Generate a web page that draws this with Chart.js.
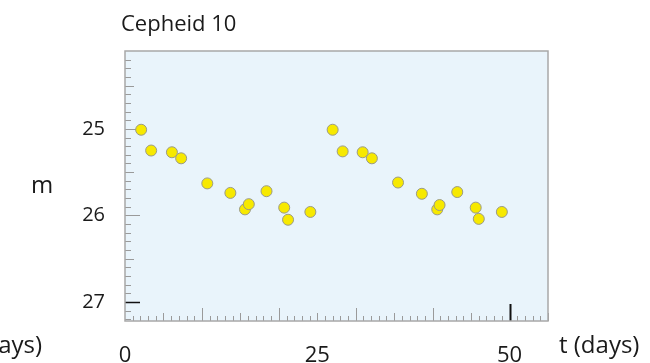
<!DOCTYPE html>
<html>
<head>
<meta charset="utf-8">
<script src="https://cdn.jsdelivr.net/npm/chart.js@4.4.1/dist/chart.umd.min.js"></script>
<style>
  html, body { margin: 0; padding: 0; background: #fff; }
  #wrap { width: 650px; height: 363px; position: relative; }
</style>
</head>
<body>
<div id="wrap"><canvas id="chart" width="650" height="363"></canvas></div>
<script>
const title = "Cepheid 10";
const xTitle = "t (days)";
const yTitle = "m";

// observation times (days) and apparent magnitudes
const days = [2.1, 3.4, 6.1, 7.3, 10.7, 13.7, 15.6, 16.1, 18.4, 20.7, 21.2, 24.1,
              27.0, 28.3, 30.9, 32.1, 35.5, 38.6, 40.6, 40.9, 43.2, 45.6, 46.0, 49.0];
const mags = [25.01, 25.25, 25.27, 25.34, 25.63, 25.74, 25.93, 25.87, 25.72, 25.91, 26.05, 25.96,
              25.01, 25.26, 25.27, 25.34, 25.62, 25.75, 25.93, 25.88, 25.73, 25.91, 26.04, 25.96];

const xLabels = [0, 25, 50];
const yLabels = [25, 26, 27];

const FONT = "'Open Sans', sans-serif";

const points = days.map((d, i) => ({ x: d, y: mags[i] }));

// light blue panel + border + inward tick marks, all placed through the scales
const panel = {
  id: "panel",
  beforeDatasetsDraw(chart) {
    const { ctx, chartArea: a, scales: { x, y } } = chart;
    ctx.save();
    ctx.fillStyle = "#e9f4fb";
    ctx.fillRect(a.left, a.top, a.right - a.left, a.bottom - a.top);

    // x ticks (every day, longer every 5 and 10)
    for (let d = 1; d <= 55; d++) {
      const px = Math.round(x.getPixelForValue(d)) + 0.5;
      let len = 5, col = "#9a9a9a", w = 1;
      if (d % 10 === 0) len = 13;
      else if (d % 5 === 0) len = 8;
      if (d === 50) { len = 17; col = "#111"; w = 2; }
      ctx.strokeStyle = col;
      ctx.lineWidth = w;
      ctx.beginPath();
      ctx.moveTo(px, a.bottom);
      ctx.lineTo(px, a.bottom - len);
      ctx.stroke();
    }

    // y ticks (every 0.1, longer every 0.5 and 1)
    for (let k = 242; k <= 272; k++) {
      const v = k / 10;
      const py = Math.round(y.getPixelForValue(v)) + 0.5;
      let len = 6, col = "#9a9a9a", w = 1;
      if (k % 10 === 0) len = 15;
      else if (k % 5 === 0) len = 9;
      if (k === 270) { col = "#111"; w = 1.5; }
      ctx.strokeStyle = col;
      ctx.lineWidth = w;
      ctx.beginPath();
      ctx.moveTo(a.left, py);
      ctx.lineTo(a.left + len, py);
      ctx.stroke();
    }

    ctx.strokeStyle = "#a8a8a8";
    ctx.lineWidth = 1.5;
    ctx.strokeRect(a.left, a.top, a.right - a.left, a.bottom - a.top);
    ctx.restore();
  },
  afterDraw(chart) {
    const { ctx } = chart;
    ctx.save();
    ctx.fillStyle = "#1a1a1a";
    ctx.textBaseline = "middle";

    ctx.font = "22px " + FONT;
    ctx.textAlign = "left";
    ctx.fillText(title, 121, 25);

    ctx.font = "24px " + FONT;
    ctx.textAlign = "center";
    ctx.fillText(yTitle, 42, 186);

    ctx.font = "24px " + FONT;
    ctx.textAlign = "left";
    ctx.fillText(xTitle, 559, 346);
    // clipped copy at the left edge
    ctx.textAlign = "right";
    ctx.fillText(xTitle, 42, 346);
    ctx.restore();
  }
};

new Chart(document.getElementById("chart"), {
  type: "scatter",
  data: {
    datasets: [{
      data: points,
      backgroundColor: "#f7e900",
      borderColor: "#9b9b86",
      borderWidth: 1,
      pointRadius: 5.5,
      pointHoverRadius: 5.5
    }]
  },
  options: {
    responsive: false,
    animation: false,
    layout: { padding: { top: 51, right: 102, left: 0, bottom: 0 } },
    plugins: {
      legend: { display: false },
      tooltip: { enabled: false },
      title: { display: false }
    },
    scales: {
      x: {
        type: "linear",
        min: 0,
        max: 55,
        grid: { display: false, drawTicks: false },
        border: { display: false },
        afterBuildTicks: (s) => { s.ticks = xLabels.map(v => ({ value: v })); },
        afterFit: (s) => { s.height = 42; },
        ticks: {
          autoSkip: false,
          maxRotation: 0,
          padding: 22,
          color: "#1a1a1a",
          font: { family: FONT, size: 22 }
        }
      },
      y: {
        type: "linear",
        reverse: true,
        min: 24.1,
        max: 27.22,
        grid: { display: false, drawTicks: false },
        border: { display: false },
        afterBuildTicks: (s) => { s.ticks = yLabels.map(v => ({ value: v })); },
        afterFit: (s) => { s.width = 125; },
        ticks: {
          autoSkip: false,
          padding: 20,
          color: "#1a1a1a",
          font: { family: FONT, size: 20 }
        }
      }
    }
  },
  plugins: [panel]
});
</script>
</body>
</html>
